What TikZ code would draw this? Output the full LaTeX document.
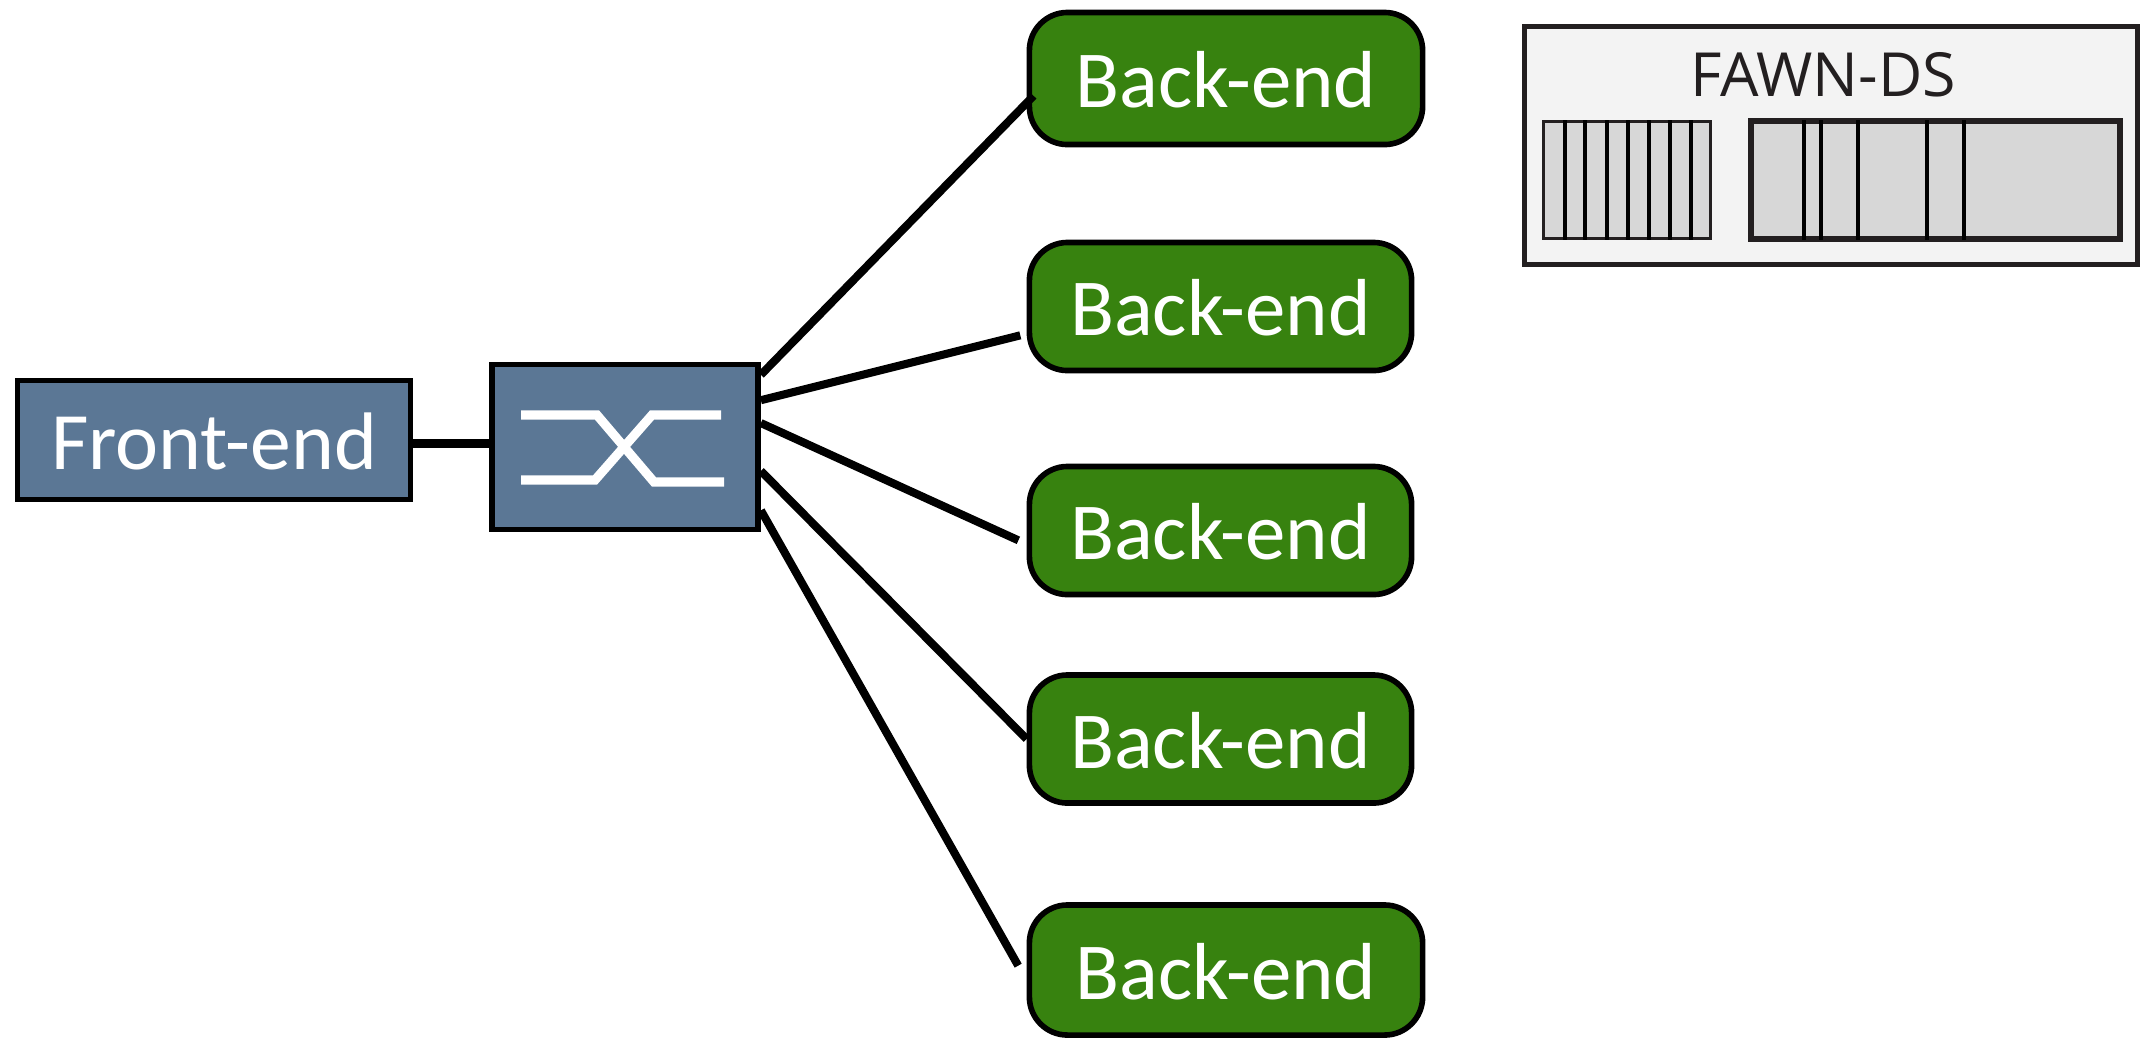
\documentclass[tikz,border=0pt]{standalone}
\usepackage{xcolor}
\usepackage{fontspec}
\setmainfont{Carlito}
\newfontfamily\dsfont{Open Sans}
\usetikzlibrary{positioning}
\definecolor{fenode}{HTML}{5B7795}
\definecolor{benode}{HTML}{37820F}
\definecolor{dsback}{HTML}{F3F3F3}
\definecolor{dscell}{HTML}{D7D7D7}
\definecolor{dsline}{HTML}{231F20}

\begin{document}
\begin{tikzpicture}[
    x=0.01cm, y=-0.01cm,
    frontend/.style={rectangle, draw=black, fill=fenode, line width=1.6pt, text=white, font=\fontsize{23.2}{28}\selectfont, text height=0.58cm, text depth=0pt, inner sep=0pt},
    backend/.style={rectangle, rounded corners=0.38cm, draw=black, fill=benode, line width=1.6pt, text=white, font=\fontsize{23}{28}\selectfont, text height=0.58cm, text depth=0pt, minimum width=3.82cm, minimum height=1.28cm, inner sep=0pt},
    link/.style={line width=2.3pt, color=black},
    xbar/.style={line width=2.6pt, color=white},
    dsbox/.style={rectangle, draw=dsline, fill=dsback, line width=1.4pt, minimum width=6.13cm, minimum height=2.38cm, inner sep=0pt},
    dscells/.style={rectangle, draw=dsline, fill=dscell, minimum height=1.17cm, inner sep=0pt},
    divider/.style={line width=1.2pt, color=black}
]

\useasboundingbox (0,0) rectangle (2154,1038);

% Front-end and switch
\node[frontend, minimum width=3.93cm, minimum height=1.19cm] (front) at (214,440) {Front-end};
\node[frontend, minimum width=2.66cm, minimum height=1.65cm] (switch) at (625,447) {};

% Back-ends
\node[backend, minimum width=3.93cm, minimum height=1.32cm] (be1) at (1226,78.5) {Back-end};
\node[backend] (be2) at (1220.5,306.5) {Back-end};
\node[backend] (be3) at (1220.5,530.5) {Back-end};
\node[backend] (be4) at (1220.5,739) {Back-end};
\node[backend, minimum width=3.93cm, minimum height=1.30cm] (be5) at (1226,970) {Back-end};

% Links
\draw[link] (front.-1.2) -- (switch.west |- front.-1.2);
\draw[link, shorten >=-1mm] (switch.28.4) -- (be1.187);
\draw[link, shorten >=0.65mm] (switch.19.9) -- (be2.188.3);
\draw[link, shorten >=0.9mm] (switch.10.1) -- (be3.184.5);
\draw[link] (switch.-10.1) -- (be4.west);
\draw[link, shorten >=1.7mm] (switch.-25) -- (be5.183.2);

% Crossbar on the switch
\draw[xbar] (521,415) -- (597,415) -- (654,482) -- (724,482);
\draw[xbar] (521,480) -- (595,480) -- (652,415) -- (721,415);

% FAWN-DS box
\node[dsbox] (ds) at (1831,145.5) {};
\node[font=\dsfont\fontsize{17.3}{21}\selectfont, color=dsline] (dstitle) at (1823,75) {FAWN-DS};
\node[dscells, line width=1pt, minimum width=1.67cm] (hashidx) at (1627,180) {};
\node[dscells, line width=1.7pt, minimum width=3.68cm] (datalog) at (1935.5,180) {};

% Cell dividers
\draw[divider] (1565,120) -- (1565,240);
\draw[divider] (1585,120) -- (1585,240);
\draw[divider] (1607,120) -- (1607,240);
\draw[divider] (1628,120) -- (1628,240);
\draw[divider] (1649,120) -- (1649,240);
\draw[divider] (1670,120) -- (1670,240);
\draw[divider] (1691,120) -- (1691,240);
\draw[divider] (1804,120) -- (1804,240);
\draw[divider] (1821,120) -- (1821,240);
\draw[divider] (1858,120) -- (1858,240);
\draw[divider] (1927,120) -- (1927,240);
\draw[divider] (1964,120) -- (1964,240);

\end{tikzpicture}
\end{document}
